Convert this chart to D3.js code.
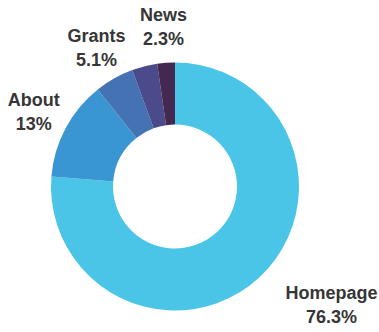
<!DOCTYPE html>
<html>
<head>
<meta charset="utf-8">
<script src="https://cdn.jsdelivr.net/npm/d3@7"></script>
<style>
  html, body { margin: 0; padding: 0; background: #ffffff; }
  svg { display: block; }
</style>
</head>
<body>
<svg id="chart" width="379" height="332"></svg>
<script>
// Share of page visits by section
const categories = ["Homepage", "About", "Grants", "Other", "News"];
const shares = [76.3, 13, 5.1, 3.3, 2.3];
const labelled = [true, true, true, false, true];
const colors = ["#4ac5e8", "#3a96d2", "#4472b2", "#4b4a8b", "#43284f"];

const width = 379, height = 332;
const cx = 175, cy = 186.5;
const outerR = 124, innerR = 62, labelR = 160;

const svg = d3.select("#chart");
const g = svg.append("g").attr("transform", `translate(${cx},${cy})`);

const pie = d3.pie().sort(null).value(d => d.value);
const data = categories.map((c, i) => ({ name: c, value: shares[i], show: labelled[i], color: colors[i] }));
const arcs = pie(data);

const arc = d3.arc().innerRadius(innerR).outerRadius(outerR);
const labelArc = d3.arc().innerRadius(labelR).outerRadius(labelR);

g.selectAll("path.slice")
  .data(arcs)
  .join("path")
  .attr("class", "slice")
  .attr("d", arc)
  .attr("fill", d => d.data.color);

// Two-line labels: name over percentage. Labels on the right side start at
// the label point so they clear the ring; the rest are centred on it.
g.selectAll("text.label")
  .data(arcs.filter(d => d.data.show))
  .join("text")
  .attr("class", "label")
  .attr("font-family", "'Liberation Sans', Arial, sans-serif")
  .attr("font-weight", "bold")
  .attr("font-size", 18)
  .attr("fill", "#363636")
  .attr("text-anchor", "middle")
  .each(function(d) {
    const [x, y] = labelArc.centroid(d);
    const right = x > 20;
    const t = d3.select(this);
    const name = t.append("tspan").attr("y", y - 5.5).text(d.data.name);
    const pct = t.append("tspan").attr("y", y + 18.5).text(`${d.data.value}%`);
    const w = name.node().getComputedTextLength();
    const mid = right ? x + 2 + w / 2 : x;
    name.attr("x", mid);
    pct.attr("x", mid);
  });
</script>
</body>
</html>
